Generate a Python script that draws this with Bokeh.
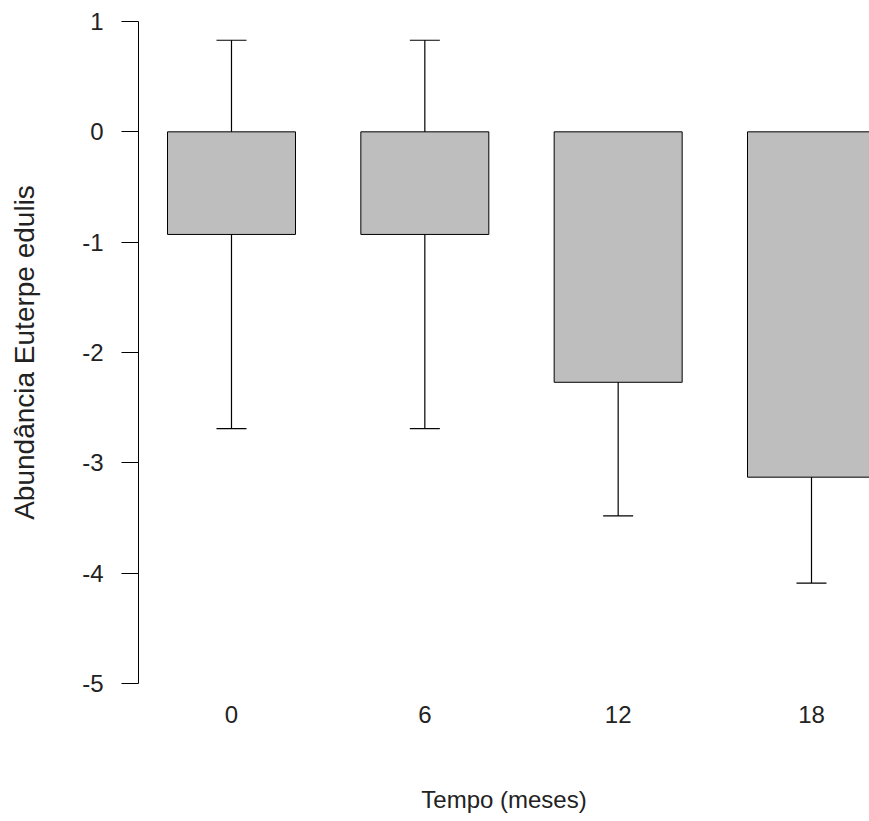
from bokeh.plotting import figure
from bokeh.models import ColumnDataSource, Range1d, FixedTicker, Whisker, TeeHead
from bokeh.embed import file_html
from bokeh.resources import INLINE

# Data
tempo_labels = ["0", "6", "12", "18"]
means = [-0.93, -0.93, -2.27, -3.13]
errors = [1.76, 1.76, 1.21, 0.96]
y_ticks = [-5, -4, -3, -2, -1, 0, 1]
y_tick_labels = ["-5", "-4", "-3", "-2", "-1", "0", "1"]

xpos = list(range(len(tempo_labels)))
upper = [m + e for m, e in zip(means, errors)]
lower = [m - e for m, e in zip(means, errors)]
src = ColumnDataSource(dict(x=xpos, top=[0] * len(means), bottom=means, upper=upper, lower=lower))

p = figure(width=869, height=821, output_backend="svg", toolbar_location=None,
           x_range=Range1d(-0.481, 3.30), y_range=Range1d(-5, 1),
           min_border_left=138, min_border_right=0, min_border_top=21, min_border_bottom=138)
p.outline_line_color = None
p.grid.visible = False
p.background_fill_color = "white"
p.border_fill_color = "white"

p.vbar(x="x", width=0.662, top="top", bottom="bottom", source=src,
       fill_color="#BEBEBE", line_color="black", line_width=1)

w = Whisker(base="x", upper="upper", lower="lower", source=src, line_color="black", line_width=1.2,
            upper_head=TeeHead(size=30, line_color="black", line_width=1.2),
            lower_head=TeeHead(size=30, line_color="black", line_width=1.2))
p.add_layout(w)

FONT = "Liberation Sans"

ya = p.yaxis[0]
ya.ticker = FixedTicker(ticks=y_ticks)
ya.major_label_overrides = {t: s for t, s in zip(y_ticks, y_tick_labels)}
ya.axis_label = "Abundância Euterpe edulis"
ya.axis_label_text_font = FONT
ya.axis_label_text_font_size = "28px"
ya.axis_label_text_font_style = "normal"
ya.axis_label_text_color = "#222222"
ya.axis_label_standoff = 39
ya.major_label_text_font = FONT
ya.major_label_text_font_size = "24px"
ya.major_label_text_color = "#222222"
ya.major_label_standoff = 18
ya.major_label_orientation = "horizontal"
ya.major_tick_out = 17
ya.major_tick_in = 0
ya.minor_tick_out = 0
ya.minor_tick_in = 0
ya.axis_line_color = "black"
ya.major_tick_line_color = "black"

xa = p.xaxis[0]
xa.ticker = FixedTicker(ticks=xpos)
xa.major_label_overrides = {i: t for i, t in zip(xpos, tempo_labels)}
xa.axis_label = "Tempo (meses)"
xa.axis_label_text_font = FONT
xa.axis_label_text_font_size = "24px"
xa.axis_label_text_font_style = "normal"
xa.axis_label_text_color = "#222222"
xa.axis_label_standoff = 60
xa.major_label_text_font = FONT
xa.major_label_text_font_size = "24px"
xa.major_label_text_color = "#222222"
xa.major_label_standoff = 22
xa.major_tick_out = 0
xa.major_tick_in = 0
xa.minor_tick_out = 0
xa.minor_tick_in = 0
xa.axis_line_color = None
xa.major_tick_line_color = None

open("out.html", "w").write(file_html(p, INLINE))
